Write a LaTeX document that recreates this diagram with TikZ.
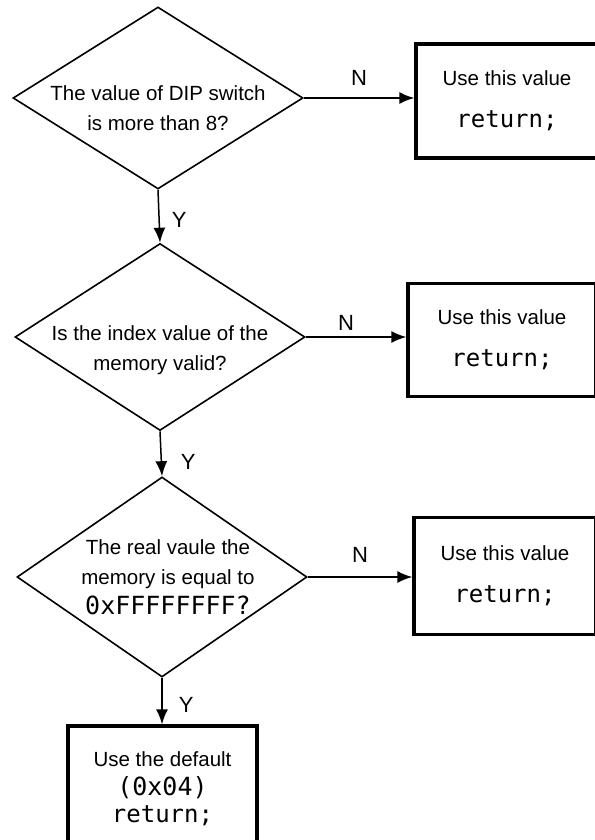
\documentclass[tikz,border=0pt]{standalone}
\usepackage{fontspec}
\setmainfont{Liberation Sans}
\setmonofont{DejaVu Sans Mono}
\usetikzlibrary{shapes.geometric, arrows.meta, positioning}
\tikzset{
  decision/.style={draw, diamond, line width=1.6pt, inner sep=0pt, minimum width=290pt, minimum height=182pt},
  block/.style={draw, rectangle, line width=3.4pt, align=center, inner sep=0pt, font=\fontsize{20.5}{30}\selectfont},
  qtext/.style={align=center, inner sep=0pt, font=\fontsize{20.5}{30}\selectfont},
  lbl/.style={inner sep=0pt, font=\fontsize{22}{26}\selectfont},
  arr/.style={line width=1.5pt, -{Latex[length=15pt,width=12pt]}}
}
\newcommand{\ret}{{\fontsize{24}{28}\selectfont\ttfamily return;}}
\newcommand{\hexval}[1]{{\fontsize{25}{30}\selectfont\ttfamily #1}}

\begin{document}
\begin{tikzpicture}[x=1pt,y=-1pt]
    \useasboundingbox (0,0) rectangle (594,840);
    % decisions
    \node[decision] (d1) at (158,98) {};
    \node[decision, minimum height=187pt] (d2) at (160,337) {};
    \node[decision, minimum height=200pt] (d3) at (162,577) {};
    \node[qtext] (q1) at ([yshift=-10pt]d1.center) {The value of DIP switch\\is more than 8?};
    \node[qtext] (q2) at ([yshift=-13pt]d2.center) {Is the index value of the\\memory valid?};
    \node[qtext] (q3) at ([xshift=6pt]d3.center) {The real vaule the\\memory is equal to\\\hexval{0xFFFFFFFF?}};
    % results
    \node[block, minimum width=182pt, minimum height=114pt] (b1) at (507,101) {Use this value\\[12pt]\ret};
    \node[block, minimum width=188pt, minimum height=113pt] (b2) at (502,340) {Use this value\\[12pt]\ret};
    \node[block, minimum width=182pt, minimum height=117pt] (b3) at (505,576) {Use this value\\[12pt]\ret};
    \node[block, minimum width=189pt, minimum height=126pt, font=\fontsize{20.5}{29}\selectfont] (b4) at (162.5,789) {Use the default\\\hexval{(0x04)}\\[-2pt]\ret\\[-26pt]};
    % flow
    \draw[arr] (d1.east) -- node[lbl, above=12pt] {N} (d1.east -| b1.west);
    \draw[arr] (d2.east) -- node[lbl, above=6pt, xshift=-10pt] {N} (d2.east -| b2.west);
    \draw[arr] (d3.east) -- node[lbl, above=14pt] {N} (d3.east -| b3.west);
    \draw[arr] (d1.south) -- node[lbl, right=12pt, yshift=-4pt] {Y} (d2.north);
    \draw[arr] (d2.south) -- node[lbl, right=19pt, yshift=-8pt] {Y} (d3.north);
    \draw[arr] (d3.south) -- node[lbl, right=16pt, yshift=-4pt] {Y} (d3.south |- b4.north);
\end{tikzpicture}
\end{document}
